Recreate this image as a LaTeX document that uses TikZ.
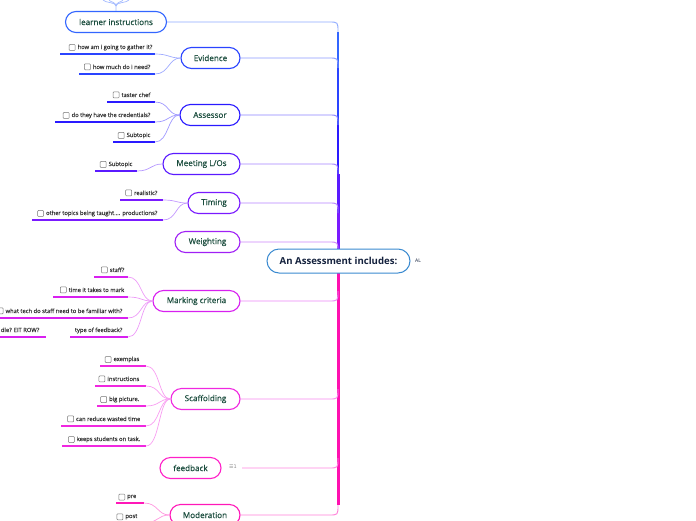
\documentclass[tikz,border=0pt]{standalone}
\usepackage{fontspec}
\setmainfont{Open Sans}
\newfontfamily\topicfont[FakeBold=0.45]{Open Sans}
\newfontfamily\subfont[FakeBold=0.15]{Open Sans}
\newfontfamily\dejavu{DejaVu Sans}
\usetikzlibrary{positioning}
\definecolor{txt}{HTML}{1B4D3E}
\definecolor{navy}{HTML}{14213D}
\definecolor{cblue}{HTML}{3A8AD0}
\definecolor{cA}{HTML}{3366FF}
\definecolor{cB}{HTML}{2A44FF}
\definecolor{cC}{HTML}{2A1AFF}
\definecolor{cD}{HTML}{5A1AFF}
\definecolor{cE}{HTML}{7A1AFF}
\definecolor{cF}{HTML}{A020F5}
\definecolor{cG}{HTML}{D820F0}
\definecolor{cH}{HTML}{F028E0}
\definecolor{cI}{HTML}{FF20C8}
\definecolor{cJ}{HTML}{FF18B8}
\definecolor{trunkP}{HTML}{FF10B0}
\tikzset{
  mainnode/.style={draw=#1, line width=1.1pt, rounded corners=10.5pt, fill=white,
    minimum height=21pt, inner sep=0pt, font=\topicfont\fontsize{8.1}{9}\selectfont, text=txt},
  subtxt/.style={inner sep=0.5pt, font=\subfont\fontsize{5.8}{6.5}\selectfont, text=black!80},
  cbox/.style={draw=black!55, line width=0.5pt, rounded corners=0.8pt, minimum size=6pt, inner sep=0pt},
  conn/.style={draw=#1!45, line width=0.7pt},
  branch/.style={draw=#1!55, line width=0.9pt},
  trunk/.style 2 args={draw=#1, line width=#2},
}
\newcommand{\subtopic}[7]{%
  \node[subtxt, anchor=base east] (#1) at (#3,#4-5) {#7};
  \node[cbox, left=1.5pt of #1] (#1b) {};
  \coordinate (#1l) at (#5,#4);
  \coordinate (#1r) at (#6,#4);
  \draw[line width=1.5pt, #2] (#1l) -- (#1r);
}
\newcommand{\subtopicnb}[7]{%
  \node[subtxt, anchor=base east] (#1) at (#3,#4-5) {#7};
  \coordinate (#1l) at (#5,#4);
  \coordinate (#1r) at (#6,#4);
  \draw[line width=1.5pt, #2] (#1l) -- (#1r);
}
\begin{document}
\begin{tikzpicture}[x=1pt,y=-1pt]
\useasboundingbox (0,0) rectangle (696,520);
\clip (0,0) rectangle (696,520);

% trunk points
\coordinate (T1) at (338,32);
\coordinate (T2) at (338,68);
\coordinate (T3) at (338,125);
\coordinate (T4) at (338,174);
\coordinate (T5) at (338,213);
\coordinate (T6) at (338,252);
\coordinate (TC) at (338,261);
\coordinate (B1) at (338,291);
\coordinate (B2) at (338,389);
\coordinate (B3) at (338,458);
\coordinate (B4) at (338,505);

% trunk segments
\draw[trunk={cA}{2.2pt}] (T1) -- (T2);
\draw[trunk={cB}{2.6pt}] (T2) -- (T3);
\draw[trunk={cC}{2.9pt}] (T3) -- (T4);
\draw[trunk={cD}{3pt}] (T4) -- (T5);
\draw[trunk={cE}{3pt}] (T5) -- (TC);
\draw[trunk={trunkP}{3pt}] (TC) -- (B4);

% main nodes
\node[mainnode=cA, minimum width=101pt] (learn) at (116,22) {learner instructions};
\node[mainnode=cB, minimum width=59pt] (evid) at (210.5,58) {Evidence};
\node[mainnode=cC, minimum width=60pt] (assr) at (210,115) {Assessor};
\node[mainnode=cD, minimum width=77pt] (meet) at (201.5,164) {Meeting L/Os};
\node[mainnode=cE, minimum width=52pt] (timing) at (214,203) {Timing};
\node[mainnode=cF, minimum width=65pt] (weight) at (207.5,242) {Weighting};
\node[mainnode=cG, minimum width=87pt] (mark) at (196.5,301) {Marking criteria};
\node[mainnode=cH, minimum width=69pt] (scaf) at (205.5,399) {Scaffolding};
\node[mainnode=cI, minimum width=61pt] (feed) at (190.5,468) {feedback};
\node[mainnode=cJ, minimum width=70pt] (moder) at (205,515) {Moderation};

% branches to trunk
\draw[branch=cA] (learn.east) -- (329,22) .. controls (338,22) .. (T1);
\draw[branch=cB] (evid.east) -- (329,58) .. controls (338,58) .. (T2);
\draw[branch=cC] (assr.east) -- (329,115) .. controls (338,115) .. (T3);
\draw[branch=cD] (meet.east) -- (329,164) .. controls (338,164) .. (T4);
\draw[branch=cE] (timing.east) -- (329,203) .. controls (338,203) .. (T5);
\draw[branch=cF] (weight.east) -- (329,242) .. controls (338,242) .. (T6);
\draw[branch=cG] (mark.east) -- (329,301) .. controls (338,301) .. (B1);
\draw[branch=cH] (scaf.east) -- (329,399) .. controls (338,399) .. (B2);
\node[font=\dejavu\fontsize{5}{6}\selectfont, text=black!45, inner sep=0.5pt] (ficon) at (233,467) {☰1};
\coordinate (fstart) at (242,468);
\draw[branch=cI] (fstart) -- (329,468) .. controls (338,468) .. (B3);
\draw[branch=cJ] (moder.east) -- (329,515) .. controls (338,515) .. (B4);

% learner instructions children (off top)
\coordinate (up1) at (103,0);
\coordinate (up2) at (109,0);
\coordinate (up3) at (123,0);
\coordinate (up4) at (129,0);
\coordinate (lj) at (116,6);
\draw[conn=cA] (learn.north) -- (lj) .. controls (116,2) and (105,3) .. (up1);
\draw[conn=cA] (lj) .. controls (116,2) and (110,2) .. (up2);
\draw[conn=cA] (lj) .. controls (116,2) and (122,2) .. (up3);
\draw[conn=cA] (lj) .. controls (116,2) and (127,3) .. (up4);

% central node
\node[draw=cblue, line width=1pt, rounded corners=12pt, fill=white, minimum width=143pt,
  minimum height=24pt, inner sep=0pt, font=\fontsize{9.6}{11}\selectfont\bfseries, text=navy]
  (center) at (338.5,261) {An Assessment includes:};
\node[font=\fontsize{5}{6}\selectfont, text=navy, inner sep=0.5pt] (al) at (418,261) {AL};

% Evidence
\subtopic{e1}{cB}{153}{54}{60}{155}{how am i going to gather it?}
\subtopic{e2}{cB}{151}{74}{79}{155}{how much do i need?}
\draw[conn=cB] (e1r) .. controls +(14,0) and +(-12,0) .. (evid.west);
\draw[conn=cB] (e2r) .. controls +(14,0) and +(-12,0) .. (evid.west);

% Assessor
\subtopic{a1}{cC}{151}{102}{107}{155}{taster chef}
\subtopic{a2}{cC}{151}{122}{55}{155}{do they have the credentials?}
\subtopic{a3}{cC}{151}{142}{113}{155}{Subtopic}
\draw[conn=cC] (a1r) .. controls +(14,0) and +(-12,0) .. (assr.west);
\draw[conn=cC] (a2r) .. controls +(14,0) and +(-12,0) .. (assr.west);
\draw[conn=cC] (a3r) .. controls +(14,0) and +(-12,0) .. (assr.west);

% Meeting
\subtopic{m1}{cD}{133}{171}{95}{137}{Subtopic}
\draw[conn=cD] (m1r) .. controls +(14,0) and +(-12,0) .. (meet.west);

% Timing
\subtopic{t1}{cE}{158}{200}{120}{163}{realistic?}
\subtopic{t2}{cE}{158}{220}{32}{163}{other topics being taught.... productions?}
\draw[conn=cE] (t1r) .. controls +(14,0) and +(-12,0) .. (timing.west);
\draw[conn=cE] (t2r) .. controls +(14,0) and +(-12,0) .. (timing.west);

% Marking criteria
\subtopic{k1}{cG}{125}{277}{94}{128}{staff?}
\subtopic{k2}{cG}{125}{297}{53}{128}{time it takes to mark}
\subtopic{k3}{cG}{123}{318}{0}{128}{what tech do staff need to be familiar with?}
\subtopicnb{k4}{cG}{123}{337}{70}{128}{type of feedback?}
\subtopicnb{k5}{cG}{40}{337}{0}{46}{dle? EIT ROW?}
\draw[conn=cG] (k1r) .. controls +(14,0) and +(-12,0) .. (mark.west);
\draw[conn=cG] (k2r) .. controls +(14,0) and +(-12,0) .. (mark.west);
\draw[conn=cG] (k3r) .. controls +(14,0) and +(-12,0) .. (mark.west);
\draw[conn=cG] (k4r) .. controls +(14,0) and +(-12,0) .. (mark.west);

% Scaffolding
\subtopic{s1}{cH}{140}{366}{100}{146}{exemplas}
\subtopic{s2}{cH}{140}{386}{95}{146}{instructions}
\subtopic{s3}{cH}{140}{406}{97}{146}{big picture.}
\subtopic{s4}{cH}{141}{426}{61}{146}{can reduce wasted time}
\subtopic{s5}{cH}{141}{446}{62}{146}{keeps students on task.}
\foreach \s in {s1,s2,s3,s4,s5}
  \draw[conn=cH] (\s r) .. controls +(14,0) and +(-12,0) .. (scaf.west);

% Moderation
\subtopic{o1}{cJ}{137}{503}{116}{144}{pre}
\subtopic{o2}{cJ}{138}{523}{114}{144}{post}
\draw[conn=cJ] (o1r) .. controls +(14,0) and +(-12,0) .. (moder.west);
\draw[conn=cJ] (o2r) .. controls +(14,0) and +(-12,0) .. (moder.west);
\end{tikzpicture}
\end{document}
